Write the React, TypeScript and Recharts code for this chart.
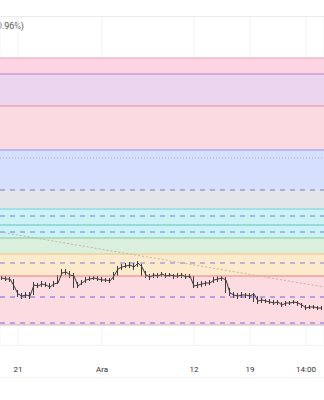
import React from "react";
import {
  ComposedChart,
  Bar,
  Line,
  XAxis,
  YAxis,
  CartesianGrid,
  ReferenceArea,
  ReferenceLine,
} from "recharts";

// price bars, one every ~4px of the visible range
const closes = [
  122, 121, 121, 114, 106, 104, 105, 104, 115, 114,
  116, 115, 113, 116, 117, 127, 128, 125, 124, 114,
  117, 120, 121, 122, 121, 120, 120, 119, 124, 131,
  133, 134, 135, 133, 137, 133, 125, 123, 125, 124,
  126, 124, 125, 124, 124, 125, 123, 124, 114, 115,
  116, 117, 117, 120, 121, 122, 120, 107, 105, 104,
  105, 105, 104, 106, 99, 100, 99, 98, 97, 98,
  95, 97, 97, 98, 97, 95, 92, 93, 93, 92,
  92,
];
const highs = [
  124, 124, 123, 121, 110, 107, 108, 108, 118, 117,
  119, 118, 117, 119, 125, 131, 131, 129, 127, 118,
  120, 123, 124, 124, 124, 123, 122, 122, 128, 134,
  136, 137, 138, 137, 139, 136, 129, 126, 127, 127,
  128, 127, 127, 126, 127, 127, 126, 126, 124, 118,
  119, 119, 120, 123, 124, 124, 123, 112, 108, 107,
  108, 107, 107, 107, 104, 102, 101, 101, 100, 100,
  98, 99, 99, 100, 99, 97, 95, 95, 95, 94,
  94,
];
const lows = [
  120, 119, 118, 110, 103, 101, 102, 101, 105, 112,
  113, 113, 111, 113, 116, 124, 125, 122, 112, 112,
  115, 117, 119, 120, 119, 118, 118, 117, 120, 124,
  130, 132, 132, 130, 133, 124, 122, 120, 122, 122,
  123, 122, 123, 121, 122, 122, 121, 122, 112, 112,
  113, 114, 115, 117, 118, 119, 107, 104, 102, 101,
  102, 102, 101, 98, 96, 97, 97, 96, 95, 95,
  93, 94, 95, 96, 94, 92, 90, 91, 91, 90,
  90,
];

const tickIndex = [4, 25, 48, 62, 76];
const tickLabels = ["21", "Ara", "12", "19", "14:00"];

// fibonacci zones
const bandTops = [342, 326, 294, 250, 210, 191, 162, 146, 124];
const bandBottoms = [326, 294, 250, 210, 191, 162, 146, 124, 75];
const solidLevels = [342, 326, 294, 250, 191, 175, 162, 146, 124, 75];
const dashedLevels = [210, 184, 168, 137, 103, 77];
const dottedLevels = [242];
const trendLine = [168, 113];

const bandFills = [
  "#fbd1df", "#ead3ee", "#fcd8dd", "#d3dcfd", "#e1e3e6",
  "#c9f1f4", "#d8eedb", "#fde8c9", "#fcd8de",
];
const solidColors = [
  "#e3a3bc", "#b77fd0", "#e38ea3", "#8d96e6", "#6fd2e0",
  "#5fc2c4", "#88c98f", "#f0c47a", "#e77e7e", "#cdb5c3",
];
const dashedColors = ["#767ec4", "#5f86d4", "#5f86d4", "#8080da", "#7064dc", "#8066dc"];

const data = closes.map((c, i) => ({ i, close: c, range: [lows[i], highs[i]] }));

export default function App() {
  const last = closes.length - 1;
  return (
    <div
      style={{
        position: "absolute",
        left: 0,
        top: 0,
        width: 324,
        height: 400,
        background: "#fff",
        overflow: "hidden",
        fontFamily: "Roboto, sans-serif",
      }}
    >
      <div style={{ position: "absolute", left: 0, top: 16, width: 324, height: 1, background: "#ececec" }} />
      <div
        style={{
          position: "absolute",
          right: 300,
          top: 21,
          fontSize: 9,
          color: "#555",
          whiteSpace: "nowrap",
        }}
      >
        (-0.96%)
      </div>
      <div style={{ position: "absolute", left: 0, top: 345, width: 324, height: 1, background: "#f3f3f3" }} />
      <div style={{ position: "absolute", left: 0, top: 377, width: 324, height: 1, background: "#f3f3f3" }} />
      <div style={{ position: "absolute", left: 0, top: 17 }}>
        <ComposedChart width={324} height={360} data={data} margin={{ top: 0, right: 0, bottom: 0, left: 0 }}>
          <CartesianGrid stroke="#f2f2f2" horizontal={false} />
          <XAxis
            dataKey="i"
            type="number"
            domain={[-0.5, last + 0.5]}
            ticks={tickIndex}
            tickFormatter={(v: number) => tickLabels[tickIndex.indexOf(v)] ?? ""}
            axisLine={false}
            tickLine={false}
            height={32}
            tickMargin={15}
            tick={{ fontSize: 8, fill: "#333" }}
            interval={0}
          />
          <YAxis hide domain={[55, 383]} allowDataOverflow />
          {bandTops.map((t, k) => (
            <ReferenceArea
              key={"b" + k}
              y1={bandBottoms[k]}
              y2={t}
              fill={bandFills[k]}
              fillOpacity={0.92}
              stroke="none"
              ifOverflow="visible"
            />
          ))}
          {solidLevels.map((v, k) => (
            <ReferenceLine key={"s" + k} y={v} stroke={solidColors[k]} strokeWidth={1} />
          ))}
          {dashedLevels.map((v, k) => (
            <ReferenceLine key={"d" + k} y={v} stroke={dashedColors[k]} strokeWidth={1} strokeDasharray="5 5" />
          ))}
          {dottedLevels.map((v, k) => (
            <ReferenceLine key={"o" + k} y={v} stroke="#a3a7cc" strokeWidth={1} strokeDasharray="1 2" />
          ))}
          <ReferenceLine
            segment={[
              { x: -0.5, y: trendLine[0] },
              { x: last + 0.5, y: trendLine[1] },
            ]}
            stroke="#c4b59f"
            strokeWidth={1}
            strokeDasharray="2 2"
            ifOverflow="visible"
          />
          <Bar dataKey="range" barSize={1} fill="#3c3c3c" isAnimationActive={false} />
          <Line
            dataKey="close"
            type="linear"
            stroke="#3a3a3a"
            strokeWidth={1}
            dot={false}
            isAnimationActive={false}
          />
        </ComposedChart>
      </div>
    </div>
  );
}
